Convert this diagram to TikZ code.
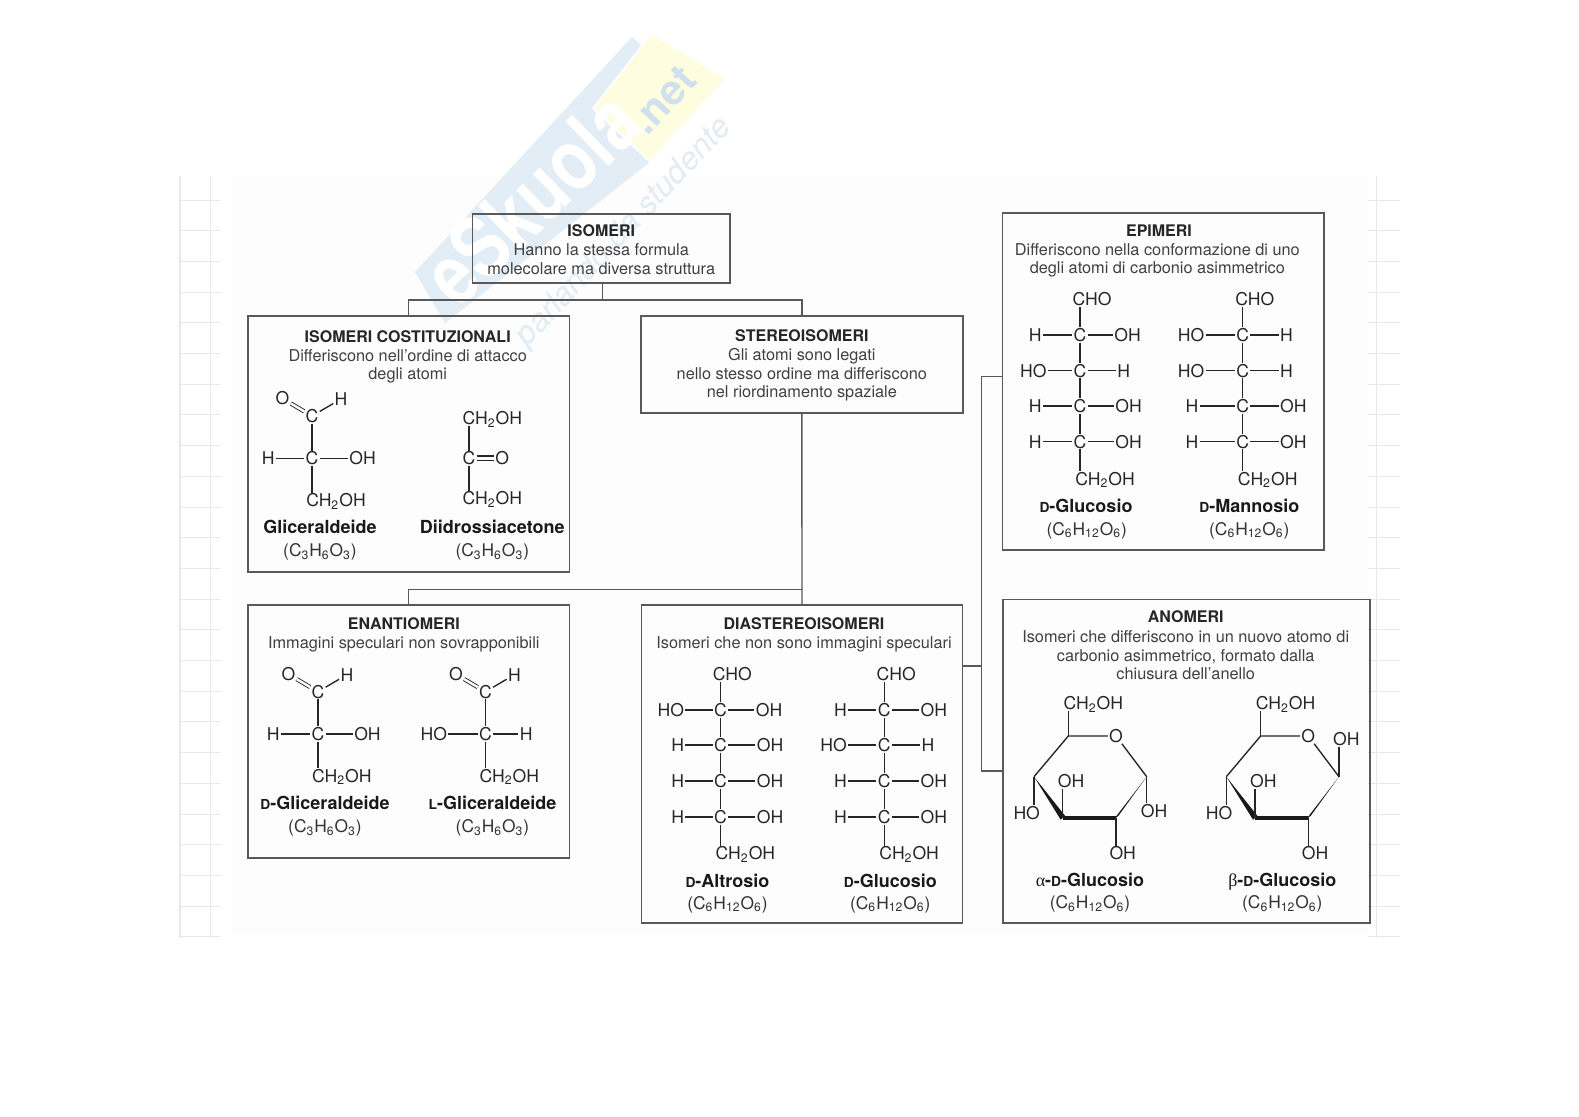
\documentclass[tikz,border=0pt]{standalone}
\usepackage{fontspec}
\usepackage{tikz}
\setmainfont{TeX Gyre Heros}
\newfontfamily\grkfont{Liberation Serif}
\definecolor{markblue}{RGB}{226,237,245}
\definecolor{markdot}{RGB}{208,224,236}
\definecolor{markyellow}{RGB}{255,253,224}
\definecolor{markscript}{RGB}{226,236,244}
\definecolor{sheet}{RGB}{253,253,253}
\definecolor{rule}{RGB}{232,232,232}

\newcommand{\lett}[1]{{\fontsize{6.9}{8}\selectfont #1}}
\newcommand{\sbs}[1]{\textsubscript{#1}}
\newcommand{\chtwo}{CH\sbs{2}OH}

% id, chain x, y of CHO, y of CH2OH, rows
\newcommand{\fischer}[5]{
  \node[atom] (#1t) at (#2+12,#3) {CHO};
  \node[atom] (#1b) at (#2+25,#4) {\chtwo};
  \foreach \n/\yy/\lft/\dl/\rgt/\dr in {#5} {
    \node[atom] (#1c\n) at (#2,\yy) {C};
    \node[atom, anchor=east] (#1l\n) at (#2-\dl,\yy) {\lft};
    \node[atom, anchor=west] (#1r\n) at (#2+\dr,\yy) {\rgt};
    \draw[bond] (#1l\n) -- (#1c\n) -- (#1r\n);
  }
  \foreach \a/\b in {1/2,2/3,3/4} {
    \draw[bond] (#1c\a) -- (#1c\b);
  }
  \draw[bond] (#1c1.north) -- (#1c1.north |- #1t.south);
  \draw[bond] (#1c4.south) -- (#1c4.south |- #1b.north);
}

% id, x, y of top C, left, left offset, right, right offset
\newcommand{\triose}[7]{
  \node[atom] (#1t) at (#2,#3) {C};
  \node[atom] (#1o) at (#2-29.5,#3-17.5) {O};
  \node[atom] (#1h) at (#2+29,#3-17) {H};
  \node[atom] (#1c) at (#2,#3+42.2) {C};
  \node[atom, anchor=east] (#1l) at (#2-#5,#3+42.2) {#4};
  \node[atom, anchor=west] (#1r) at (#2+#7,#3+42.2) {#6};
  \node[atom] (#1b) at (#2+24,#3+84.2) {\chtwo};
  \draw[dbond] (#1t) -- (#1o);
  \draw[bond] (#1t) -- (#1h);
  \draw[bond] (#1t) -- (#1c);
  \draw[bond] (#1l) -- (#1c) -- (#1r);
  \draw[bond] (#1c.south) -- (#1c.south |- #1b.north);
}

\begin{document}
\begin{tikzpicture}[
  x=0.5pt, y=-0.5pt,
  box/.style={draw=black!65, line width=0.8pt, inner sep=0pt, outer sep=0pt, anchor=north west},
  link/.style={draw=black!65, line width=0.7pt},
  titlebox/.style={font=\bfseries\fontsize{8}{9.25}\selectfont, text=black!85, inner sep=0pt},
  blurb/.style={font=\fontsize{8.15}{9.25}\selectfont, text=black!75, align=center, inner sep=0pt},
  atom/.style={font=\fontsize{8.8}{10}\selectfont, text=black!85, inner sep=0.5pt,
               text height=6.3pt, text depth=0pt},
  compound/.style={font=\bfseries\fontsize{9}{10}\selectfont, text=black!90, inner sep=0pt,
               text height=6.2pt, text depth=0pt},
  formula/.style={font=\fontsize{8.7}{10}\selectfont, text=black!80, inner sep=0pt,
               text height=6.2pt, text depth=0pt},
  bond/.style={draw=black!85, line width=0.68pt},
  dbond/.style={draw=black!85, line width=0.45pt, double, double distance=1.2pt}
]
\useasboundingbox (0,0) rectangle (1579,1116);
\fill[white] (0,0) rectangle (1579,1116);

% ── Scanned sheet ─────────────────────
\fill[sheet] (232,176) rectangle (1368,935);
\foreach \x in {180,210.7,1376.7} {
  \draw[rule, line width=0.6pt] (\x,176) -- (\x,938);
}
\foreach \k in {0,...,24} {
  \draw[rule, line width=0.5pt] (180,200+30.7*\k) -- (220,200+30.7*\k);
  \draw[rule, line width=0.5pt] (1368,200+30.7*\k) -- (1400,200+30.7*\k);
}

% ── Watermark ─────────────────────────
\fill[markblue] (415,272) -- (632,37) -- (670,70) -- (650,162) -- (445,323) -- cycle;
\fill[markyellow, draw=white, line width=1pt] (651.7,33.3) -- (726.7,78.3) -- (650,161.7) -- (593.3,108.3) -- cycle;
\node[font=\bfseries\fontsize{34}{34}\selectfont, text=white, rotate=44, inner sep=0pt] (markname) at (531,198) {\scalebox{1}[1.25]{eSkuola}};
\node[font=\bfseries\fontsize{21}{21}\selectfont, text=markdot, rotate=47, inner sep=0pt] (markdotnet) at (663,100) {.net};
\node[font=\itshape\fontsize{16}{16}\selectfont, text=markscript, rotate=47, inner sep=0pt] (markline) at (624,232) {parlando da studente};

% ── Boxes ─────────────────────────────
\node[box, align=center, minimum width=257.5*0.5pt, minimum height=69*0.5pt,
      font=\fontsize{8.15}{9.25}\selectfont, text=black!75] (iso) at (472.5,214)
  {\rule{0pt}{6.8pt}{\bfseries\fontsize{8}{9.25}\selectfont\color{black!85} ISOMERI}\\[0.6pt]
   Hanno la stessa formula\\ molecolare ma diversa struttura};
\node[box, minimum width=321.5*0.5pt, minimum height=256*0.5pt] (cost) at (248,316) {};
\node[box, align=center, minimum width=321.7*0.5pt, minimum height=96.7*0.5pt,
      font=\fontsize{8.15}{9.25}\selectfont, text=black!75] (stereo) at (641,316)
  {\rule{0pt}{6.8pt}{\bfseries\fontsize{8}{9.25}\selectfont\color{black!85} STEREOISOMERI}\\[0.6pt]
   Gli atomi sono legati\\ nello stesso ordine ma differiscono\\ nel riordinamento spaziale};
\node[box, minimum width=321.5*0.5pt, minimum height=252.7*0.5pt] (enant) at (248,605) {};
\node[box, minimum width=321*0.5pt, minimum height=318*0.5pt] (diast) at (641.5,605) {};
\node[box, minimum width=321.7*0.5pt, minimum height=337.3*0.5pt] (epim) at (1002.3,212.7) {};
\node[box, minimum width=367.3*0.5pt, minimum height=323.4*0.5pt] (anom) at (1002.7,599.3) {};

% ── Connectors ────────────────────────
\coordinate (bustop) at (602.7,300);
\coordinate (busmid) at (802,589.3);
\coordinate (spine) at (981.7,666);
\coordinate (diastout) at (962.5,666);
\coordinate (epimin) at (1002.3,376.7);
\coordinate (anomin) at (1002.7,771);
\draw[link] (iso.south -| bustop) -- (bustop);
\draw[link] (cost.north) |- (bustop) -| (stereo.north);
\draw[link] (stereo.south) -- (diast.north);
\draw[link] (enant.north) |- (busmid);
\draw[link] (diastout) -- (spine);
\draw[link] (epimin) -| (spine) |- (anomin);

% ── Isomeri costituzionali ────────────
\node[titlebox] (costtitle) at (407.7,336.5) {ISOMERI COSTITUZIONALI};
\node[blurb] (costblurb) at (407.7,366.5) {Differiscono nell’ordine di attacco\\ degli atomi};
\triose{gl}{312}{416}{H}{36}{OH}{36}
\node[compound] (glname) at (320,527.7) {Gliceraldeide};
\node[formula] (glform) at (320,550.7) {(C\sbs{3}H\sbs{6}O\sbs{3})};

\node[atom] (ditop) at (492.3,418.3) {\chtwo};
\node[atom] (dic) at (469,458.3) {C};
\node[atom] (dio) at (502.3,458.3) {O};
\node[atom] (dibot) at (492.3,498.3) {\chtwo};
\draw[bond] ([yshift=1.1pt]dic.east) -- ([yshift=1.1pt]dio.west);
\draw[bond] ([yshift=-1.1pt]dic.east) -- ([yshift=-1.1pt]dio.west);
\draw[bond] (dic.north) -- (dic.north |- ditop.south);
\draw[bond] (dic.south) -- (dic.south |- dibot.north);
\node[compound] (diname) at (492.3,527.7) {Diidrossiacetone};
\node[formula] (diform) at (492.3,550.7) {(C\sbs{3}H\sbs{6}O\sbs{3})};

% ── Enantiomeri ───────────────────────
\node[titlebox] (enanttitle) at (403.8,623.3) {ENANTIOMERI};
\node[blurb] (enantblurb) at (403.8,644.5) {Immagini speculari non sovrapponibili};
\triose{dg}{317.9}{691.7}{H}{37}{OH}{35}
\node[compound] (dgname) at (325,803.3) {\lett{D}-Gliceraldeide};
\node[formula] (dgform) at (325,826.7) {(C\sbs{3}H\sbs{6}O\sbs{3})};
\triose{lg}{485.4}{691.7}{HO}{37}{H}{33}
\node[compound] (lgname) at (492.5,803.3) {\lett{L}-Gliceraldeide};
\node[formula] (lgform) at (492.5,826.7) {(C\sbs{3}H\sbs{6}O\sbs{3})};

% ── Diastereoisomeri ──────────────────
\node[titlebox] (diasttitle) at (804,623.3) {DIASTEREOISOMERI};
\node[blurb] (diastblurb) at (804,644.5) {Isomeri che non sono immagini speculari};
\fischer{al}{720.4}{674}{853.3}{1/710/HO/35/OH/34, 2/745/H/35/OH/35, 3/781/H/35/OH/35, 4/817/H/35/OH/35}
\node[compound] (alname) at (727.5,881.7) {\lett{D}-Altrosio};
\node[formula] (alform) at (727.5,903.3) {(C\sbs{6}H\sbs{12}O\sbs{6})};
\fischer{gu}{884.2}{674}{853.3}{1/710/H/36/OH/35, 2/745/HO/36/H/36, 3/781/H/36/OH/35, 4/817/H/36/OH/35}
\node[compound] (guname) at (890.3,881.7) {\lett{D}-Glucosio};
\node[formula] (guform) at (890.3,903.3) {(C\sbs{6}H\sbs{12}O\sbs{6})};

% ── Epimeri ───────────────────────────
\node[titlebox] (epimtitle) at (1159,230.5) {EPIMERI};
\node[blurb] (epimblurb) at (1157.3,260.2) {Differiscono nella conformazione di uno\\ degli atomi di carbonio asimmetrico};
\fischer{eg}{1080}{299.3}{478.7}{1/335/H/37/OH/33, 2/370.7/HO/32/H/36, 3/406/H/37/OH/34, 4/441.7/H/37/OH/34}
\node[compound] (egname) at (1086,506) {\lett{D}-Glucosio};
\node[formula] (egform) at (1086.7,529.3) {(C\sbs{6}H\sbs{12}O\sbs{6})};
\fischer{em}{1242.7}{299.3}{478.7}{1/335/HO/37/H/36, 2/370.7/HO/37/H/36, 3/406/H/43/OH/36, 4/441.7/H/43/OH/36}
\node[compound] (emname) at (1249.3,506) {\lett{D}-Mannosio};
\node[formula] (emform) at (1249.3,529.3) {(C\sbs{6}H\sbs{12}O\sbs{6})};

% ── Anomeri ───────────────────────────
\node[titlebox] (anomtitle) at (1185.7,616.7) {ANOMERI};
\node[blurb] (anomblurb) at (1185.7,655.3) {Isomeri che differiscono in un nuovo atomo di\\ carbonio asimmetrico, formato dalla\\ chiusura dell’anello};

\foreach \m/\dx/\oy/\anc/\pre in {ra/0/810.7/north/α, rb/192.3/739.3/south/β} {
  \coordinate (\m a) at (1068.3+\dx,736);
  \coordinate (\m e) at (1034+\dx,776.7);
  \coordinate (\m d) at (1062.7+\dx,817.7);
  \coordinate (\m c) at (1116+\dx,817.7);
  \coordinate (\m r) at (1146.7+\dx,776.7);
  \node[atom] (\m o) at (1116+\dx,736) {O};
  \node[atom] (\m top) at (1093.3+\dx,703.3) {\chtwo};
  \node[atom] (\m h1) at (1026.7+\dx,812.7) {HO};
  \node[atom] (\m h2) at (1071+\dx,781) {OH};
  \node[atom] (\m h3) at (1122.7+\dx,853.3) {OH};
  \node[atom] (\m h4) at (1154+\dx,\oy) {OH};
  \draw[bond] (\m e) -- (\m a) -- (\m o) -- (\m r);
  \fill[black!90] (\m e) -- (1060.7+\dx,819.7) -- (1065+\dx,815.7) -- cycle;
  \fill[black!90] (\m r) -- (1113.5+\dx,819.7) -- (1118.5+\dx,815.7) -- cycle;
  \draw[black!90, line width=2pt] (\m d) -- (\m c);
  \draw[bond] (\m a) -- (\m a |- \m top.south);
  \draw[bond] (\m e) -- (\m e |- \m h1.north);
  \draw[bond] (\m d) -- (\m d |- \m h2.south);
  \draw[bond] (\m c) -- (\m c |- \m h3.north);
  \draw[bond] (\m r) -- (\m r |- \m h4.\anc);
  \node[compound] (\m name) at (1090+\dx,880) {{\grkfont\mdseries \pre}-\lett{D}-Glucosio};
  \node[formula] (\m form) at (1090+\dx,902.7) {(C\sbs{6}H\sbs{12}O\sbs{6})};
}

\end{tikzpicture}
\end{document}
